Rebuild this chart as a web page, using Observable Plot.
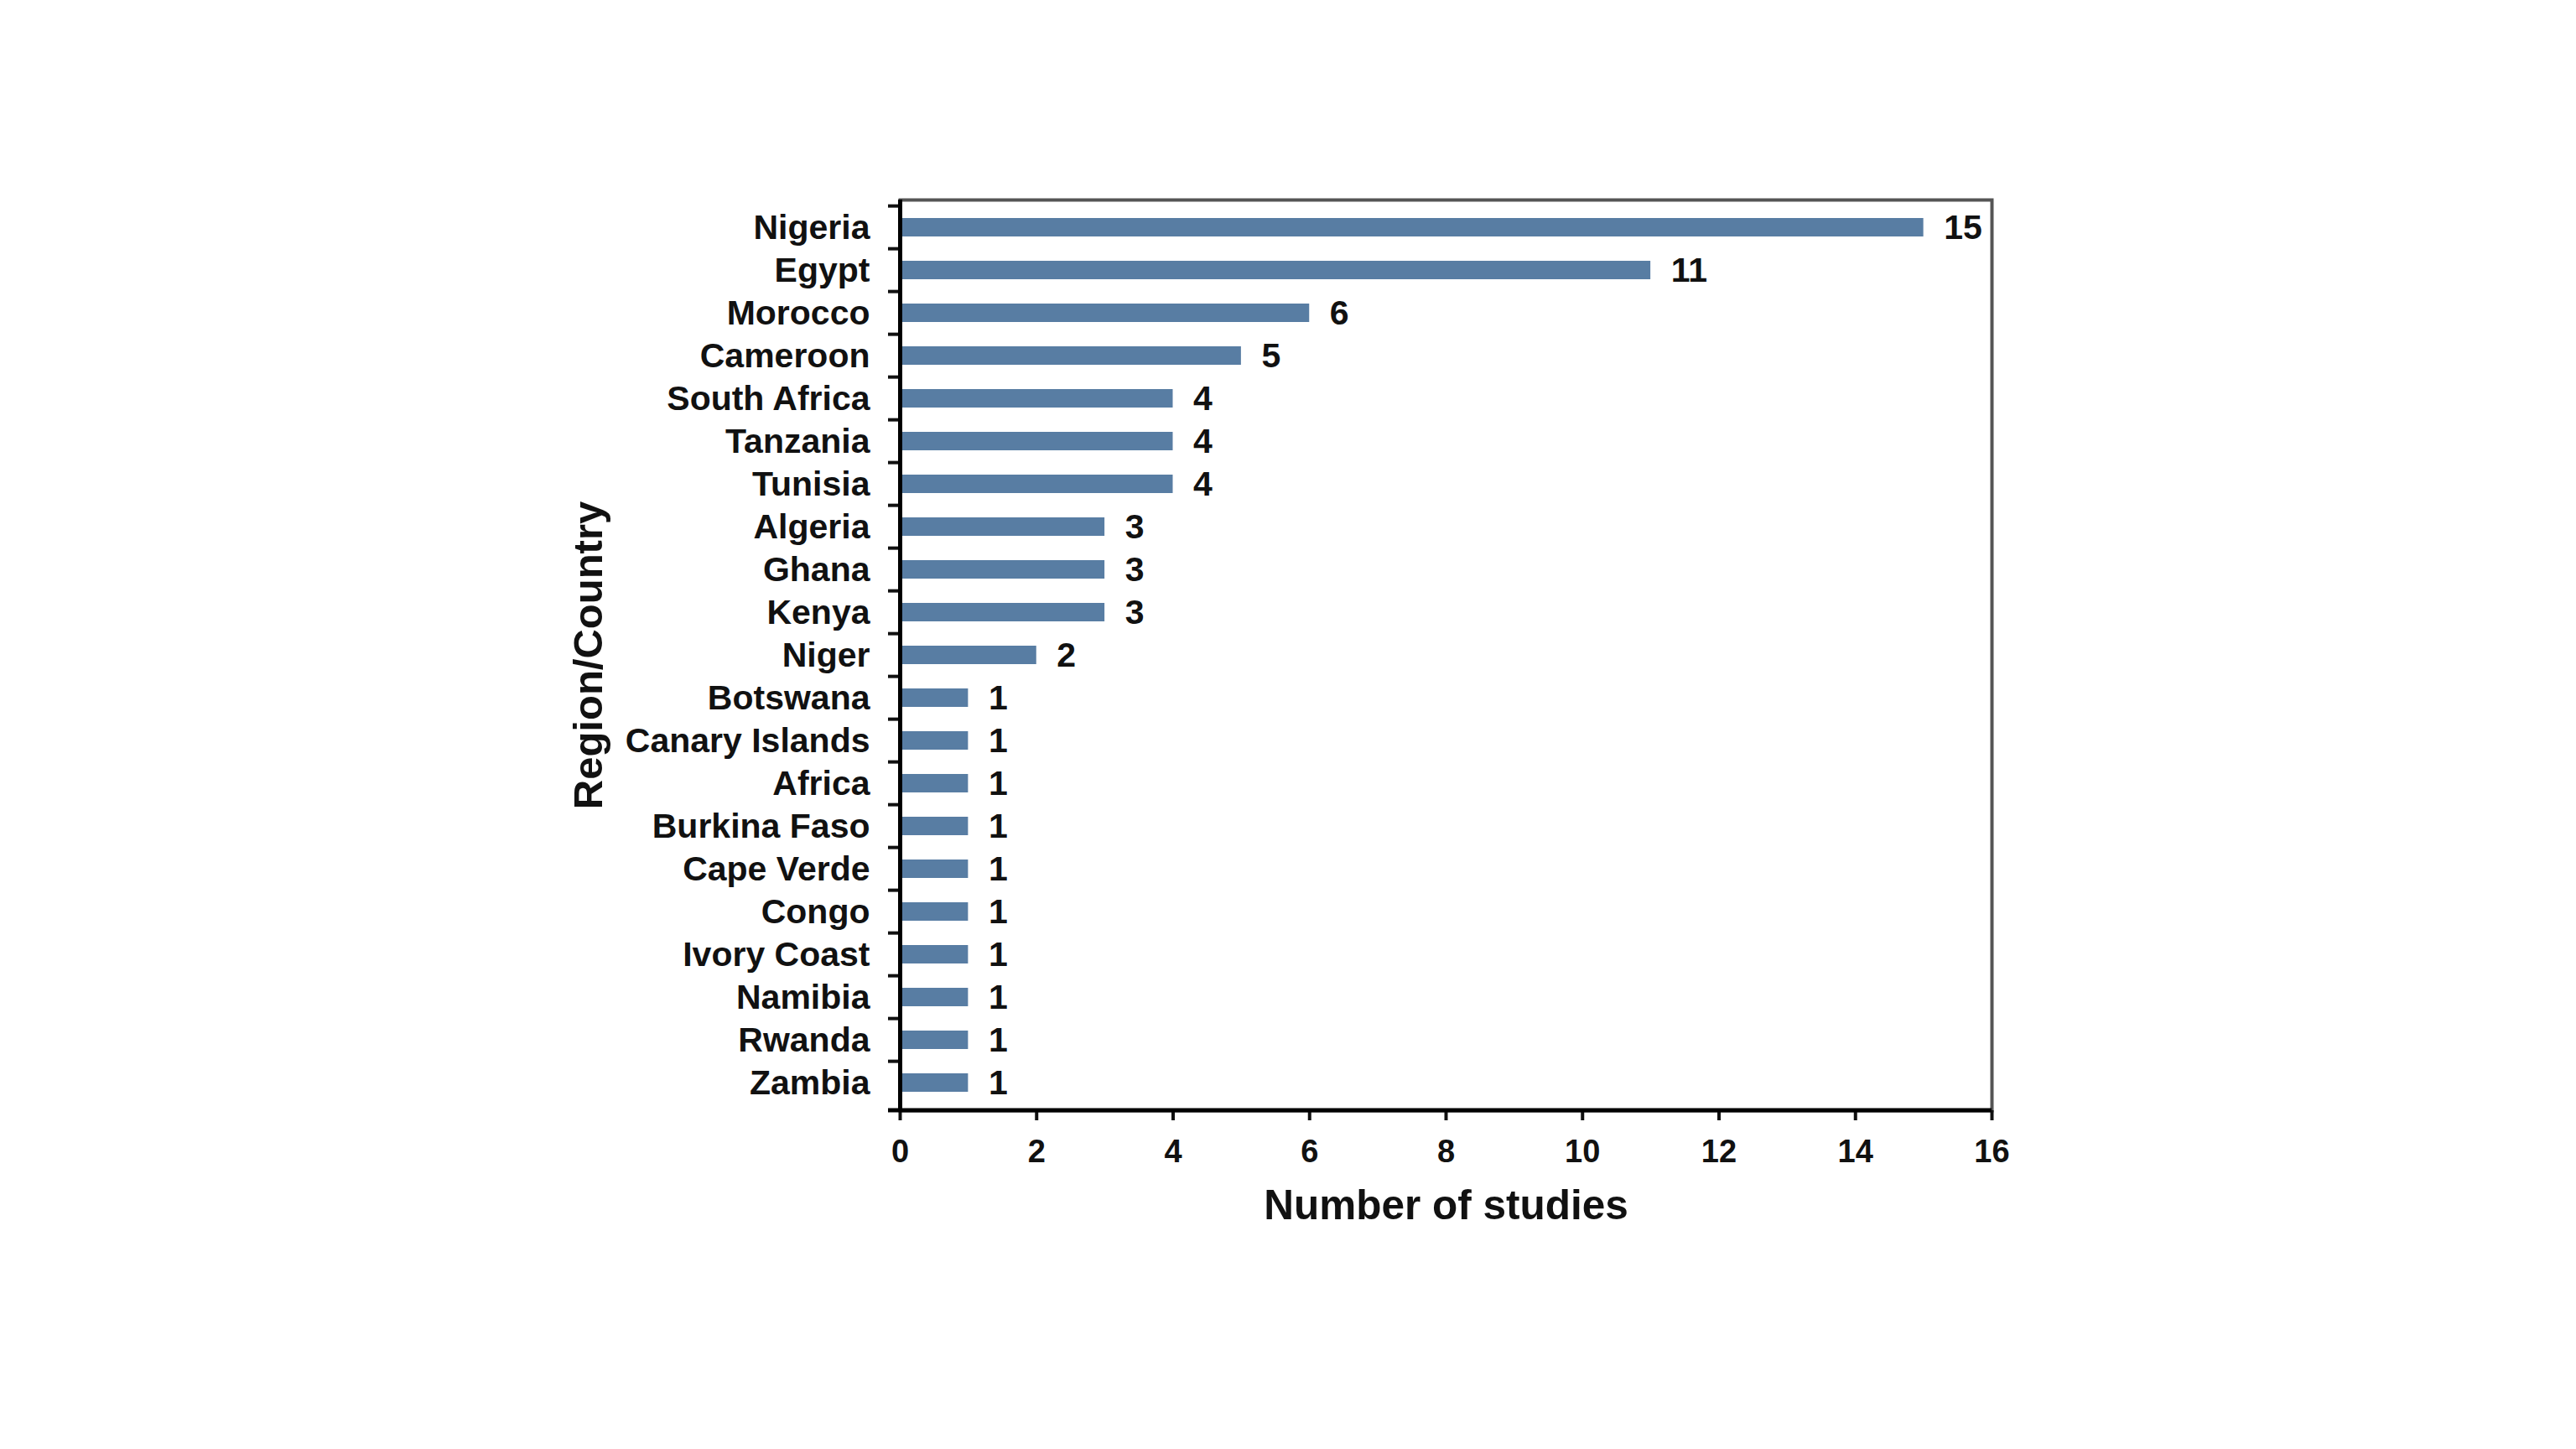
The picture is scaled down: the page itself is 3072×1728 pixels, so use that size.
<!DOCTYPE html>
<html>
<head>
<meta charset="utf-8">
<script src="https://cdn.jsdelivr.net/npm/d3@7"></script>
<script src="https://cdn.jsdelivr.net/npm/@observablehq/plot@0.6"></script>
<style>
  body { margin: 0; background: #fff; }
</style>
</head>
<body>
<div id="chart"></div>
<script>
// countries, top to bottom
const countries = ["Nigeria", "Egypt", "Morocco", "Cameroon", "South Africa", "Tanzania", "Tunisia",
  "Algeria", "Ghana", "Kenya", "Niger", "Botswana", "Canary Islands", "Africa", "Burkina Faso",
  "Cape Verde", "Congo", "Ivory Coast", "Namibia", "Rwanda", "Zambia"]
// number of studies per country
const studies = [15, 11, 6, 5, 4, 4, 4, 3, 3, 3, 2, 1, 1, 1, 1, 1, 1, 1, 1, 1, 1]
const xTicks = [0, 2, 4, 6, 8, 10, 12, 14, 16]

const data = countries.map((c, i) => ({country: c, n: studies[i]}))

const W = 3072, H = 1728
const mTop = 238, mBottom = 404, mLeft = 1073, mRight = 697
const step = (H - mTop - mBottom) / countries.length

let chart = Plot.plot({
  width: W,
  height: H,
  marginTop: mTop,
  marginBottom: mBottom,
  marginLeft: mLeft,
  marginRight: mRight,
  style: {fontFamily: "Liberation Sans, Arial, sans-serif", fontWeight: "bold", color: "#111", background: "#fff"},
  x: {domain: [0, 16]},
  // outer padding = inner/2 so ticks at band edges line up with the frame
  y: {domain: countries, paddingInner: 0.56, paddingOuter: 0.28},
  marks: [
    Plot.frame({stroke: "#555", strokeWidth: 4}),
    Plot.barX(data, {x: "n", y: "country", fill: "#587da3"}),
    Plot.text(data, {x: "n", y: "country", text: d => String(d.n), dx: 24, textAnchor: "start", fontSize: 41, fill: "#111"}),
    // y labels
    Plot.axisY({tickSize: 0, tickPadding: 36, fontSize: 41, label: null}),
    // y ticks between categories
    Plot.axisY({tickSize: 14, tickFormat: () => "", dy: -step / 2, strokeWidth: 4, label: null}),
    // x axis
    Plot.axisX({ticks: xTicks, tickSize: 12, tickPadding: 23, fontSize: 38, strokeWidth: 4, label: null}),
    Plot.ruleX([0], {stroke: "#000", strokeWidth: 5}),
    Plot.text(["Region/Country"], {frameAnchor: "left", dx: -371, rotate: -90, textAnchor: "middle", lineAnchor: "middle", fontSize: 49, fill: "#111"}),
    Plot.text(["Number of studies"], {frameAnchor: "bottom", dy: 114, textAnchor: "middle", lineAnchor: "middle", fontSize: 49.5, fill: "#111"})
  ]
})

// bottom axis line, thick black, slightly past the left edge
d3.select(chart).append("line")
  .attr("x1", mLeft - 14).attr("x2", W - mRight)
  .attr("y1", H - mBottom).attr("y2", H - mBottom)
  .attr("stroke", "#000").attr("stroke-width", 5)

d3.select('#chart').append(() => chart)
</script>
</body>
</html>
